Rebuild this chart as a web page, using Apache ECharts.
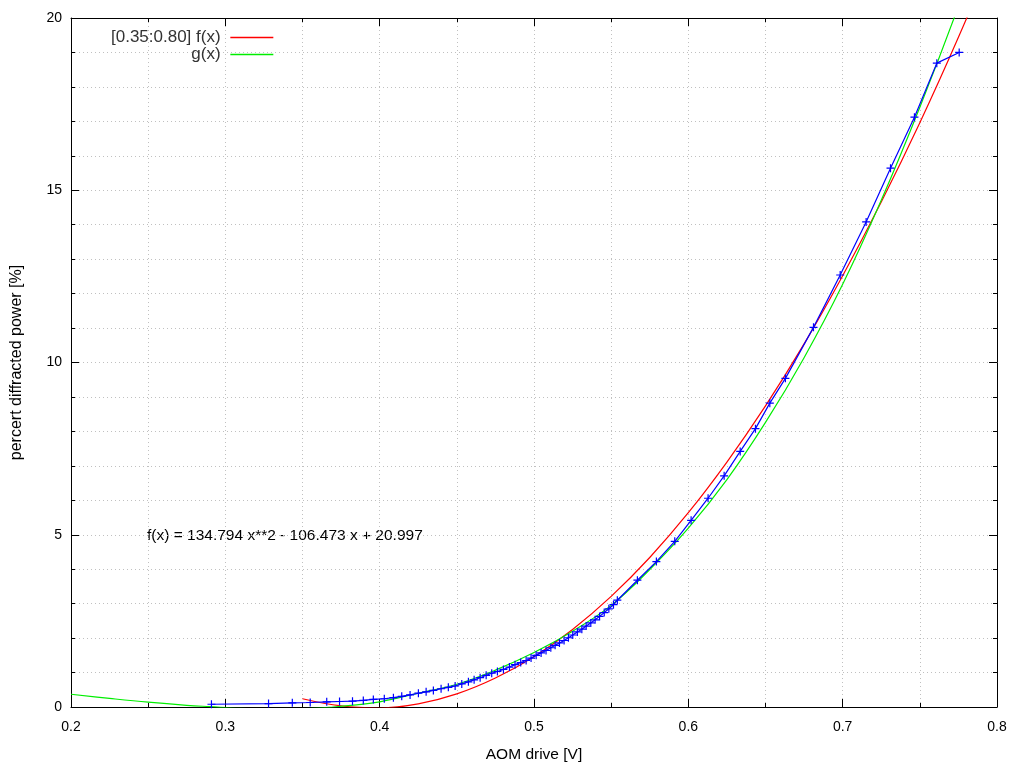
<!DOCTYPE html>
<html>
<head>
<meta charset="utf-8">
<script src="https://cdn.jsdelivr.net/npm/echarts@6/dist/echarts.min.js"></script>
<style>
html,body{margin:0;padding:0;background:#fff;}
#chart{width:1024px;height:768px;}
</style>
</head>
<body>
<div id="chart"></div>
<script>
// measured data (blue crosses)
const dataX = [0.291,0.328,0.3434,0.355,0.3657,0.374,0.3824,0.3894,0.3959,0.403,0.4089,0.4143,0.4197,0.4251,0.4301,0.4348,0.4398,0.4445,0.4489,0.4532,0.4575,0.4612,0.4651,0.469,0.4726,0.4763,0.4802,0.4841,0.4877,0.4914,0.4949,0.4981,0.5014,0.5046,0.5078,0.5109,0.5137,0.5165,0.5195,0.5223,0.5251,0.5281,0.531,0.5338,0.5368,0.5396,0.5425,0.5455,0.5485,0.5515,0.554,0.567,0.5793,0.5912,0.6018,0.6128,0.6232,0.6336,0.6435,0.6528,0.6629,0.6811,0.6984,0.7152,0.731,0.7465,0.761,0.7755];
const dataY = [0.08,0.10,0.12,0.13,0.15,0.16,0.17,0.19,0.22,0.24,0.27,0.31,0.35,0.40,0.44,0.48,0.53,0.57,0.61,0.67,0.73,0.79,0.85,0.92,0.98,1.03,1.09,1.16,1.23,1.29,1.35,1.42,1.50,1.57,1.64,1.72,1.79,1.86,1.93,2.01,2.09,2.18,2.26,2.35,2.44,2.53,2.63,2.74,2.85,2.97,3.10,3.68,4.22,4.81,5.42,6.06,6.71,7.42,8.08,8.82,9.54,11.02,12.54,14.08,15.64,17.12,18.69,19.00];

// f(x) curve, range [0.35:0.80]
const fX = [0.35,0.375,0.40,0.425,0.45,0.475,0.50,0.525,0.55,0.575,0.60,0.625,0.65,0.675,0.70,0.725,0.75,0.775,0.80];
const fY = [0.24,0.03,-0.03,0.09,0.38,0.84,1.46,2.25,3.21,4.34,5.64,7.11,8.74,10.54,12.52,14.66,16.96,19.44,22.09];

// g(x) curve
const gX = [0.20,0.225,0.25,0.275,0.29,0.31,0.33,0.35,0.37,0.385,0.40,0.425,0.45,0.475,0.50,0.525,0.55,0.575,0.60,0.625,0.65,0.675,0.70,0.725,0.75,0.775,0.79];
const gY = [0.37,0.25,0.14,0.05,0.01,-0.04,-0.06,-0.05,0.00,0.06,0.15,0.40,0.66,1.07,1.58,2.20,2.95,3.99,5.19,6.60,8.26,10.14,12.27,14.71,17.41,20.34,22.3];

const legendF = '[0.35:0.80] f(x)';
const legendG = 'g(x)';
const fitText = 'f(x) = 134.794 x**2 - 106.473 x + 20.997';
const xName = 'AOM drive [V]';
const yName = 'percert diffracted power [%]';

const zip = (xs, ys) => xs.map((x, i) => [x, ys[i]]);
const FONT = 'Liberation Sans';
const RED = '#ff0000', GREEN = '#00ee00', BLUE = '#0000ff';

const gridLine = {show: true, lineStyle: {color: '#c0c0c0', type: [1, 3], width: 1}};
const tickStyle = {show: true, inside: true, length: 8, lineStyle: {color: '#000'}};
const minorTickStyle = {show: true, length: 4, lineStyle: {color: '#000'}};

const chart = echarts.init(document.getElementById('chart'), null, {renderer: 'canvas'});
chart.setOption({
  animation: false,
  backgroundColor: '#fff',
  grid: {left: 71, right: 27, top: 18, bottom: 61, containLabel: false},
  legend: {
    orient: 'vertical', align: 'right', left: 111, top: 29, padding: 0,
    itemWidth: 43, itemHeight: 14, itemGap: 0,
    itemStyle: {opacity: 0},
    formatter: n => n + ' ',
    textStyle: {fontFamily: FONT, fontSize: 17, color: '#333'},
    data: [
      {name: legendF, lineStyle: {color: RED, width: 1.6}},
      {name: legendG, lineStyle: {color: GREEN, width: 1.6}}
    ]
  },
  graphic: [{
    type: 'text', left: 147, top: 528,
    style: {text: fitText, font: '15.5px "Liberation Sans"', fill: '#000'}
  }],
  xAxis: [{
    type: 'value', min: 0.2, max: 0.8, interval: 0.1, position: 'bottom',
    name: xName, nameLocation: 'middle', nameGap: 40,
    nameTextStyle: {fontFamily: FONT, fontSize: 15.5, color: '#000'},
    axisLine: {show: true, onZero: false, lineStyle: {color: '#000', width: 1}},
    axisTick: tickStyle, minorTick: Object.assign({splitNumber: 2}, minorTickStyle),
    axisLabel: {fontFamily: FONT, fontSize: 14, color: '#000', margin: 13,
      formatter: v => (Math.round(v * 10) / 10).toString()},
    splitLine: gridLine, minorSplitLine: gridLine
  }, {
    type: 'value', min: 0.2, max: 0.8, interval: 0.1, position: 'top',
    axisLine: {show: true, onZero: false, lineStyle: {color: '#000', width: 1}},
    axisTick: tickStyle, minorTick: Object.assign({splitNumber: 2}, minorTickStyle),
    axisLabel: {show: false}, splitLine: {show: false}
  }],
  yAxis: [{
    type: 'value', min: 0, max: 20, interval: 5, position: 'left',
    name: yName, nameLocation: 'middle', nameGap: 46,
    nameTextStyle: {fontFamily: FONT, fontSize: 16, color: '#000'},
    axisLine: {show: true, onZero: false, lineStyle: {color: '#000', width: 1}},
    axisTick: tickStyle, minorTick: Object.assign({splitNumber: 5}, minorTickStyle),
    axisLabel: {fontFamily: FONT, fontSize: 14, color: '#000', margin: 9},
    splitLine: gridLine, minorSplitLine: gridLine
  }, {
    type: 'value', min: 0, max: 20, interval: 5, position: 'right',
    axisLine: {show: true, onZero: false, lineStyle: {color: '#000', width: 1}},
    axisTick: tickStyle, minorTick: Object.assign({splitNumber: 5}, minorTickStyle),
    axisLabel: {show: false}, splitLine: {show: false}
  }],
  series: [{
    name: legendF, type: 'line', data: zip(fX, fY), smooth: 0.4,
    symbol: 'none', clip: true, z: 2,
    lineStyle: {color: RED, width: 1.2}, itemStyle: {color: RED}
  }, {
    name: legendG, type: 'line', data: zip(gX, gY), smooth: 0.4,
    symbol: 'none', clip: true, z: 3,
    lineStyle: {color: GREEN, width: 1.2}, itemStyle: {color: GREEN}
  }, {
    name: 'data', type: 'line', data: zip(dataX, dataY), clip: true, z: 4,
    symbol: 'path://M0,4 L8,4 M4,0 L4,8', symbolSize: 8, showSymbol: true,
    lineStyle: {color: BLUE, width: 1.2},
    itemStyle: {color: BLUE, borderColor: BLUE, borderWidth: 1.2}
  }]
});
</script>
</body>
</html>
